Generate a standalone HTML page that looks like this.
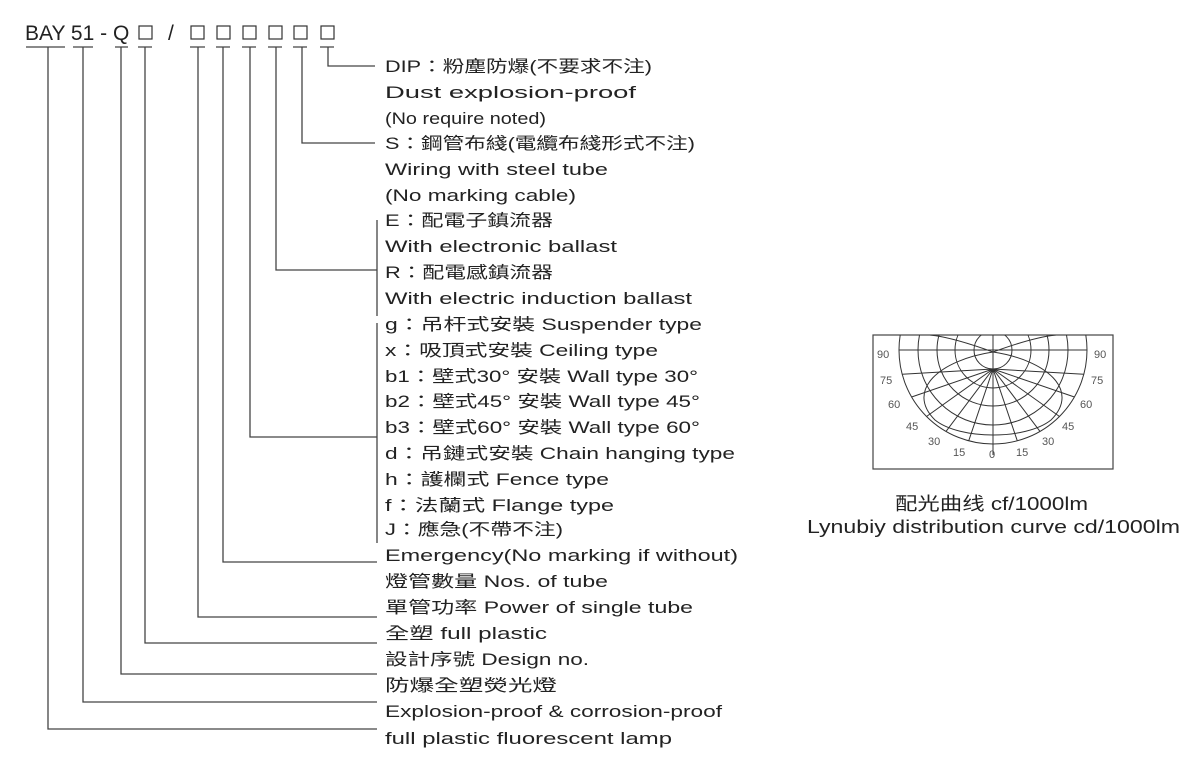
<!DOCTYPE html>
<html><head><meta charset="utf-8"><style>
html,body{margin:0;padding:0;background:#fff;}
svg{display:block;}
.t{font-family:"Liberation Sans","Noto Sans CJK TC",sans-serif;font-size:16.5px;fill:#222;}
.g{fill:none;stroke:#333;stroke-width:1;}
.l{fill:none;stroke:#444;stroke-width:1.3;}
.n{font-family:"Liberation Sans",sans-serif;font-size:11px;fill:#555;}
</style></head><body>
<svg width="1204" height="772" viewBox="0 0 1204 772" xmlns="http://www.w3.org/2000/svg">
<text x="25" y="40" style="font-family:'Liberation Sans',sans-serif;font-size:21px;fill:#222">BAY 51 - Q</text>
<text x="168" y="40" style="font-family:'Liberation Sans',sans-serif;font-size:21px;fill:#222">/</text>
<g fill="none" stroke="#333" stroke-width="1.2">
<rect x="139" y="26" width="13" height="13"/>
<rect x="191" y="26" width="13" height="13"/>
<rect x="217" y="26" width="13" height="13"/>
<rect x="243" y="26" width="13" height="13"/>
<rect x="269" y="26" width="13" height="13"/>
<rect x="294" y="26" width="13" height="13"/>
<rect x="321" y="26" width="13" height="13"/>
</g>
<g class="l">
<path d="M26 47H65M73 47H93M115 47H128M138 47H152M190 47H205M216 47H230M242 47H256M268 47H282M293 47H307M320 47H334"/>
<path d="M328 47V66H375"/>
<path d="M302 47V143H375"/>
<path d="M276 47V270H377"/>
<path d="M377 220V316"/>
<path d="M250 47V437H377"/>
<path d="M377 323V543"/>
<path d="M223 47V562H377"/>
<path d="M198 47V617H377"/>
<path d="M145 47V643H377"/>
<path d="M121 47V674H377"/>
<path d="M83 47V702H377"/>
<path d="M48 47V729H377"/>
</g>
<g class="t">
<text x="385" y="72" textLength="267" lengthAdjust="spacingAndGlyphs">DIP：粉塵防爆(不要求不注)</text>
<text x="385" y="98" textLength="251" lengthAdjust="spacingAndGlyphs">Dust explosion-proof</text>
<text x="385" y="124" textLength="161" lengthAdjust="spacingAndGlyphs">(No require noted)</text>
<text x="385" y="149" textLength="310" lengthAdjust="spacingAndGlyphs">S：鋼管布綫(電纜布綫形式不注)</text>
<text x="385" y="175" textLength="223" lengthAdjust="spacingAndGlyphs">Wiring with steel tube</text>
<text x="385" y="201" textLength="191" lengthAdjust="spacingAndGlyphs">(No marking cable)</text>
<text x="385" y="226" textLength="168" lengthAdjust="spacingAndGlyphs">E：配電子鎮流器</text>
<text x="385" y="252" textLength="232" lengthAdjust="spacingAndGlyphs">With electronic ballast</text>
<text x="385" y="278" textLength="168" lengthAdjust="spacingAndGlyphs">R：配電感鎮流器</text>
<text x="385" y="304" textLength="307" lengthAdjust="spacingAndGlyphs">With electric induction ballast</text>
<text x="385" y="330" textLength="317" lengthAdjust="spacingAndGlyphs">g：吊杆式安裝 Suspender type</text>
<text x="385" y="356" textLength="273" lengthAdjust="spacingAndGlyphs">x：吸頂式安裝 Ceiling type</text>
<text x="385" y="382" textLength="313" lengthAdjust="spacingAndGlyphs">b1：壁式30° 安裝 Wall type 30°</text>
<text x="385" y="407" textLength="315" lengthAdjust="spacingAndGlyphs">b2：壁式45° 安裝 Wall type 45°</text>
<text x="385" y="433" textLength="315" lengthAdjust="spacingAndGlyphs">b3：壁式60° 安裝 Wall type 60°</text>
<text x="385" y="459" textLength="350" lengthAdjust="spacingAndGlyphs">d：吊鏈式安裝 Chain hanging type</text>
<text x="385" y="485" textLength="224" lengthAdjust="spacingAndGlyphs">h：護欄式 Fence type</text>
<text x="385" y="511" textLength="229" lengthAdjust="spacingAndGlyphs">f：法蘭式 Flange type</text>
<text x="385" y="535" textLength="178" lengthAdjust="spacingAndGlyphs">J：應急(不帶不注)</text>
<text x="385" y="561" textLength="353" lengthAdjust="spacingAndGlyphs">Emergency(No marking if without)</text>
<text x="385" y="587" textLength="223" lengthAdjust="spacingAndGlyphs">燈管數量 Nos. of tube</text>
<text x="385" y="613" textLength="308" lengthAdjust="spacingAndGlyphs">單管功率 Power of single tube</text>
<text x="385" y="639" textLength="162" lengthAdjust="spacingAndGlyphs">全塑 full plastic</text>
<text x="385" y="665" textLength="204" lengthAdjust="spacingAndGlyphs">設計序號 Design no.</text>
<text x="385" y="691" textLength="172" lengthAdjust="spacingAndGlyphs">防爆全塑熒光燈</text>
<text x="385" y="717" textLength="337" lengthAdjust="spacingAndGlyphs">Explosion-proof &amp; corrosion-proof</text>
<text x="385" y="744" textLength="287" lengthAdjust="spacingAndGlyphs">full plastic fluorescent lamp</text>
</g>
<defs><clipPath id="c"><rect x="873" y="335" width="240" height="134"/></clipPath></defs>
<rect x="873" y="335" width="240" height="134" fill="none" stroke="#444" stroke-width="1.2"/>
<g class="g" clip-path="url(#c)">
<circle cx="993" cy="350" r="19"/><circle cx="993" cy="350" r="38"/><circle cx="993" cy="350" r="56"/><circle cx="993" cy="350" r="75"/><circle cx="993" cy="350" r="94"/>
<path d="M899 350H1087M993 335V455"/>
<path d="M993 369L1017.3 440.8M993 369L968.7 440.8M993 369L1040 431.4M993 369L946 431.4M993 369L1059.5 416.5M993 369L926.5 416.5M993 369L1074.4 397M993 369L911.6 397M993 369L1083.8 374.3M993 369L902.2 374.3"/>
<path d="M993 352C940 360 905 390 935 420C960 440 1026 440 1051 420C1081 390 1046 360 993 352"/>
<path d="M993 352C960 340 940 336 930 335M993 352C1026 340 1046 336 1056 335"/>
</g>
<g class="n">
<text x="877" y="358">90</text><text x="1094" y="358">90</text>
<text x="880" y="384">75</text><text x="1091" y="384">75</text>
<text x="888" y="408">60</text><text x="1080" y="408">60</text>
<text x="906" y="430">45</text><text x="1062" y="430">45</text>
<text x="928" y="445">30</text><text x="1042" y="445">30</text>
<text x="953" y="456">15</text><text x="1016" y="456">15</text>
<text x="989" y="458">0</text>
</g>
<text x="895" y="510" textLength="193" lengthAdjust="spacingAndGlyphs" style="font-family:'Liberation Sans','Noto Sans CJK SC',sans-serif;font-size:18px;fill:#222">配光曲线 cf/1000lm</text>
<text x="807" y="533" textLength="373" lengthAdjust="spacingAndGlyphs" style="font-family:'Liberation Sans',sans-serif;font-size:18px;fill:#222">Lynubiy distribution curve cd/1000lm</text>
</svg>
</body></html>
